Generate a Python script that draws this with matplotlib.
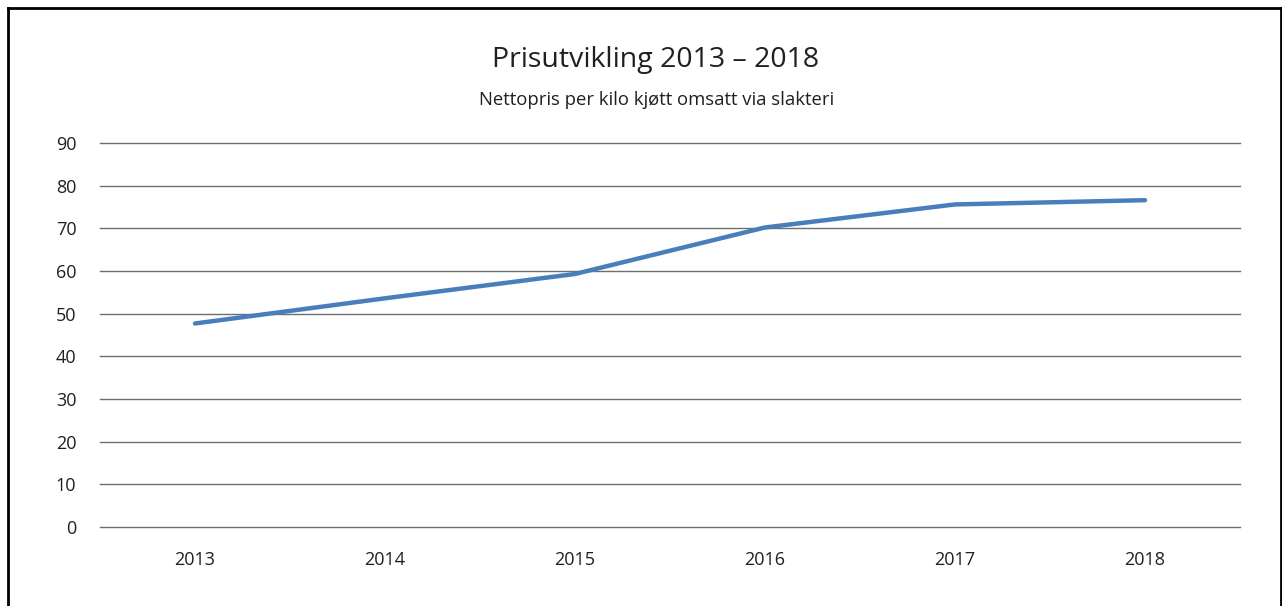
import matplotlib
matplotlib.use("Agg")
import matplotlib.pyplot as plt
from matplotlib.lines import Line2D

years = ["2013", "2014", "2015", "2016", "2017", "2018"]
prices = [47.7, 53.6, 59.3, 70.2, 75.6, 76.6]
yticks = [0, 10, 20, 30, 40, 50, 60, 70, 80, 90]
title = "Prisutvikling 2013 – 2018"
subtitle = "Nettopris per kilo kjøtt omsatt via slakteri"

W, H = 1282, 606
plt.rcParams['font.family'] = ['Open Sans', 'DejaVu Sans']
fig = plt.figure(figsize=(W / 100, H / 100), dpi=100)
ax = fig.add_axes([100 / W, 1 - 527 / H, 1140 / W, 384 / H])

x = list(range(len(years)))
ax.plot(x, prices, color="#4a7ebb", lw=3.2, solid_capstyle="round",
        solid_joinstyle="round", zorder=3)
ax.set_xlim(-0.5, len(years) - 0.5)
ax.set_ylim(0, 90)
ax.set_yticks(yticks)
ax.set_yticklabels([str(v) for v in yticks])
ax.set_xticks(x)
ax.set_xticklabels(years)
for v in yticks:
    ax.axhline(v, color="#6e6e6e", lw=1.0, clip_on=False, zorder=1)
for s in ax.spines.values():
    s.set_visible(False)
ax.tick_params(axis="both", length=0, labelsize=13, colors="#231f20")
ax.tick_params(axis="y", pad=17)
ax.tick_params(axis="x", pad=17)

fig.text(656 / W, 1 - 60 / H, title, ha="center", va="center",
         fontsize=20.5, color="#231f20")
fig.text(657 / W, 1 - 100 / H, subtitle, ha="center", va="center",
         fontsize=13.3, color="#231f20")

# outer frame (left, top, right)
kw = dict(color="black", lw=2, transform=fig.transFigure)
fig.add_artist(Line2D([8 / W, 8 / W], [0, 1 - 8 / H], **kw))
fig.add_artist(Line2D([8 / W, 1280.5 / W], [1 - 8 / H, 1 - 8 / H], **kw))
fig.add_artist(Line2D([1280.5 / W, 1280.5 / W], [0, 1 - 8 / H], **kw))

fig.savefig("out.png", dpi=100)
